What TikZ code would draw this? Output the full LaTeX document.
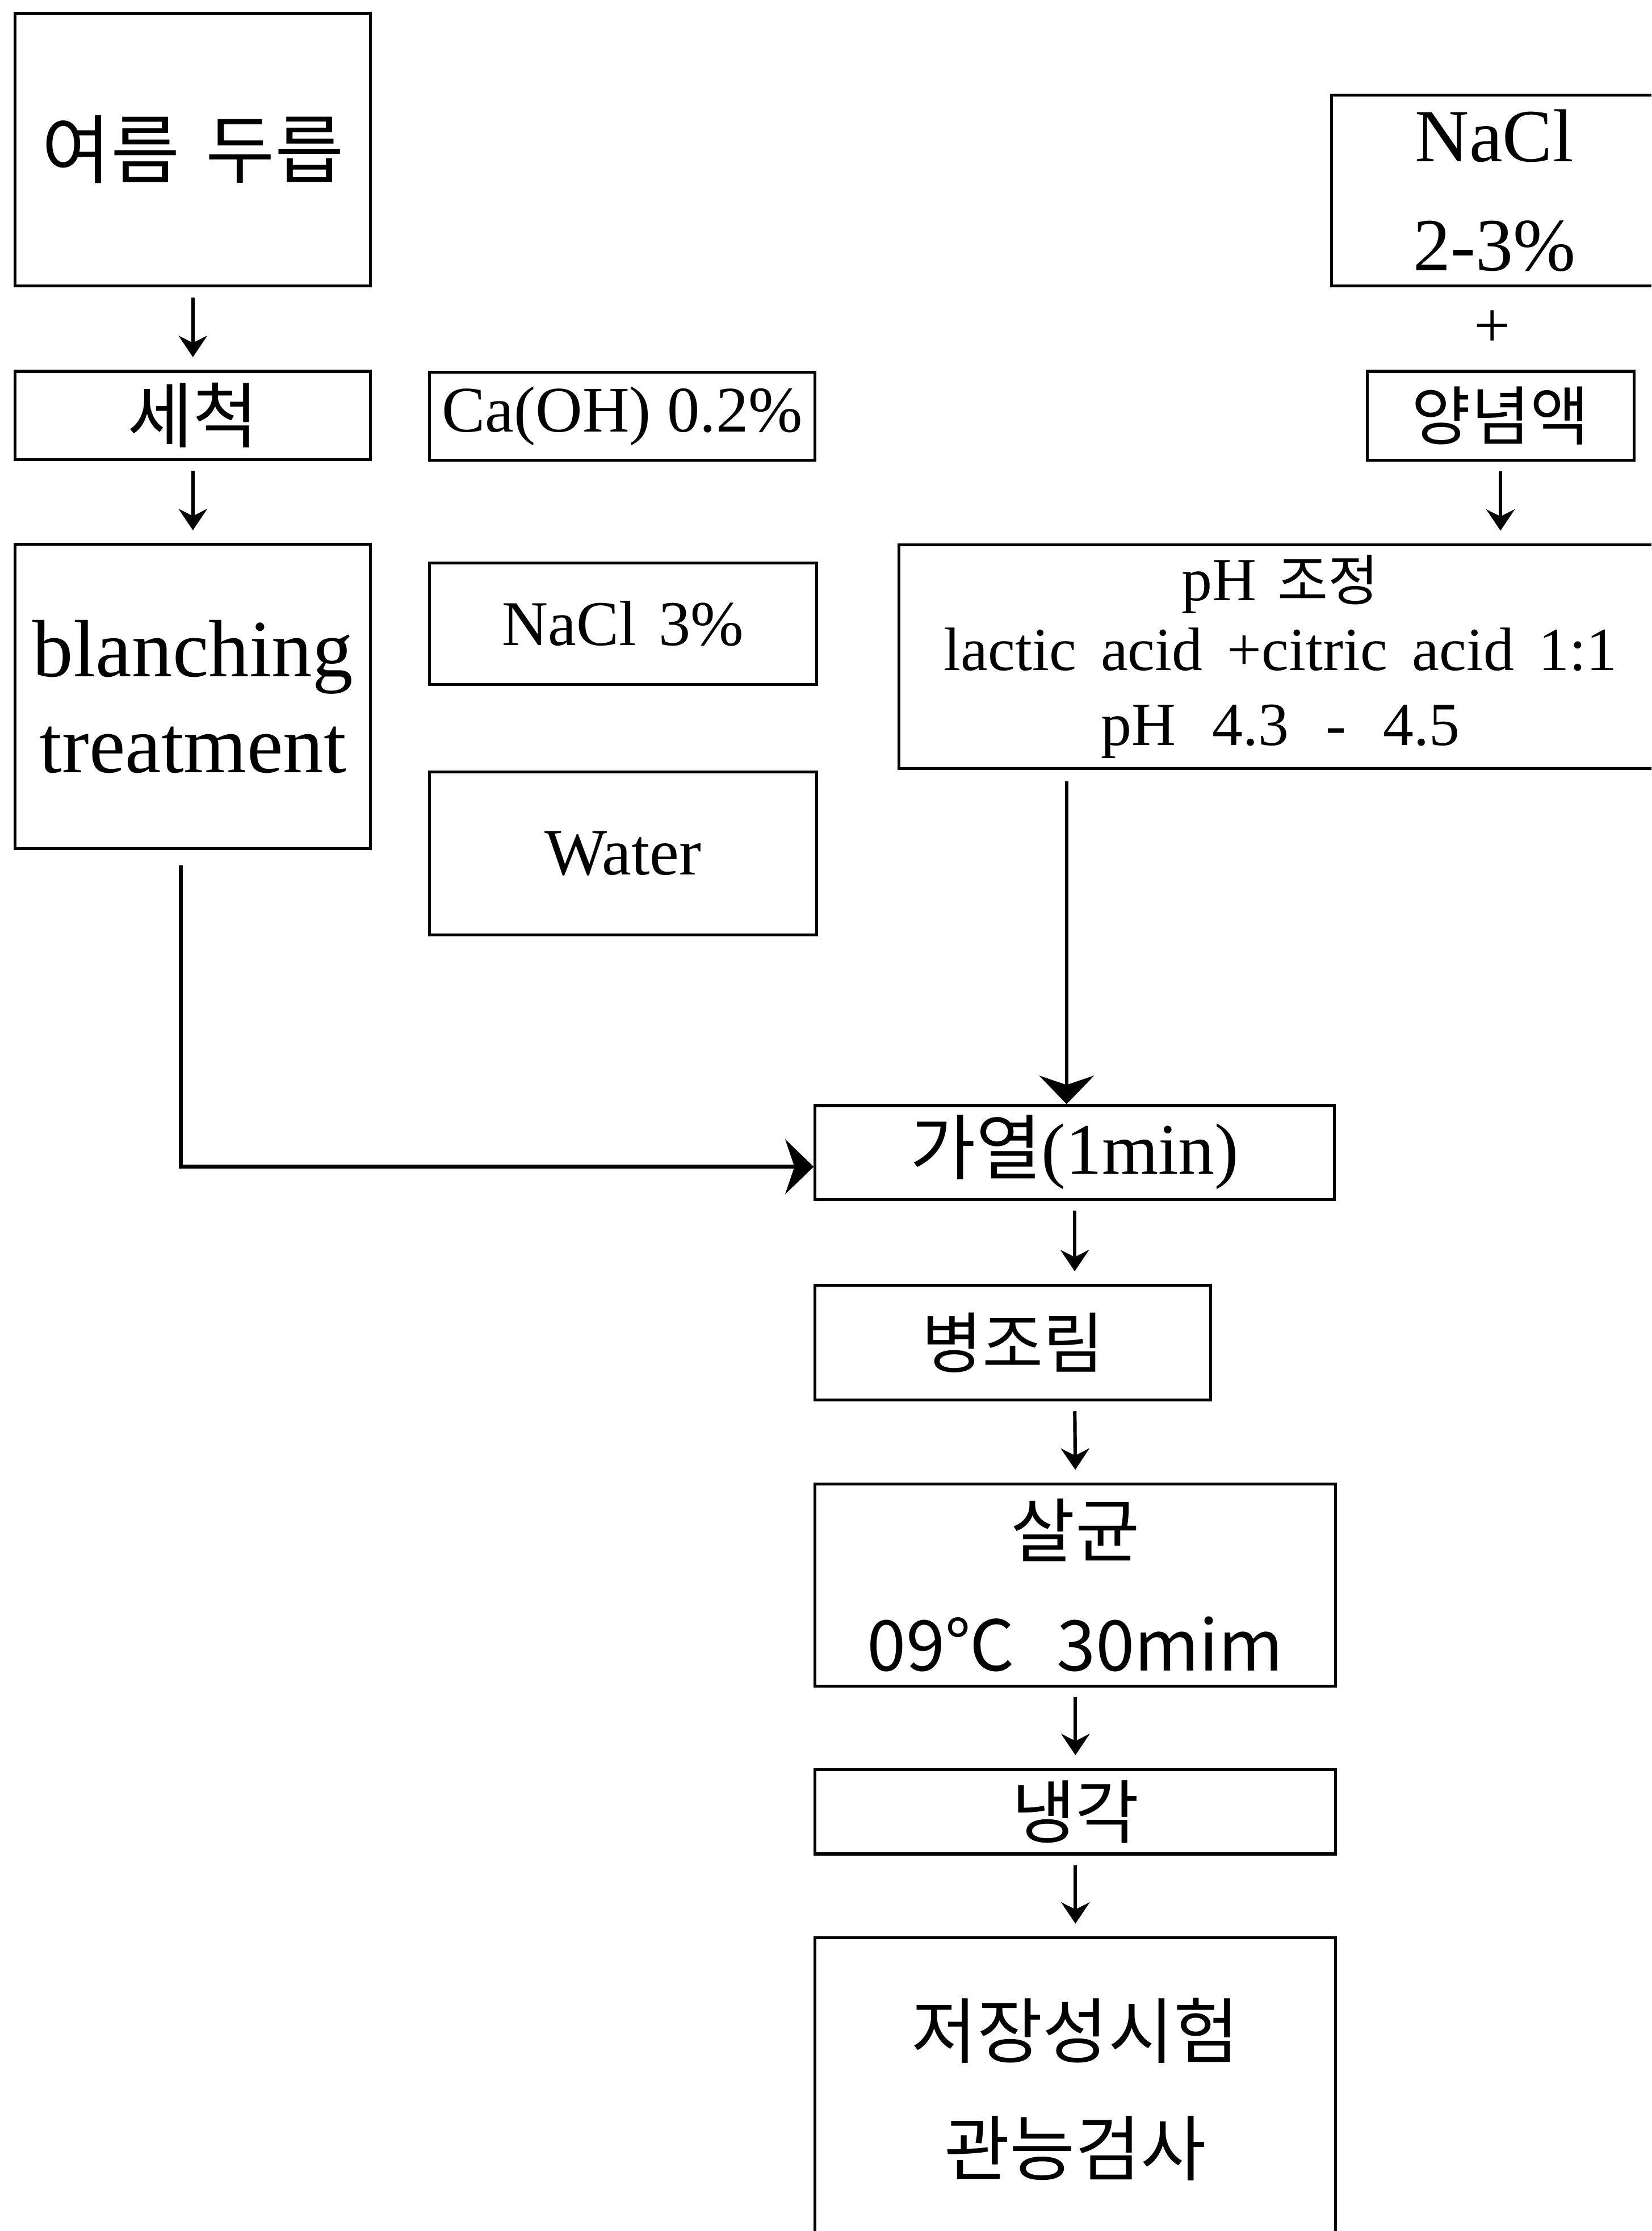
\documentclass[tikz,border=0pt]{standalone}
\usepackage{fontspec}
\setmainfont{Liberation Serif}
\newfontfamily\kr{Noto Sans CJK KR}
\usetikzlibrary{arrows.meta}
\newcommand{\fs}[2]{\fontsize{#1pt}{#2pt}\selectfont}
% \bx[options]{name}{x1}{y1}{x2}{y2}{text}
\newcommand{\bx}[7][]{\node[box,#1,minimum width={(#5-#3)*0.02cm},minimum height={(#6-#4)*0.02cm}] (#2) at ({(#3+#5)/2},{(#4+#6)/2}) {#7};}
\begin{document}
\begin{tikzpicture}[x=0.02cm,y=-0.02cm,
  box/.style={draw,line width=1.15pt,inner sep=0pt,align=center},
  smallarrow/.style={line width=1.4pt,-{Stealth[length=0.3cm,width=0.4cm,inset=0.1cm]},shorten <=0.14cm,shorten >=0.18cm},
  longarrow/.style={line width=1.5pt,-{Stealth[length=0.4cm,width=0.77cm,inset=0.13cm]}}]
\clip (0,0) rectangle (1161,1568);
\fill[white] (0,0) rectangle (1161,1568);
% left column
\bx[font=\kr\fs{30}{34}]{b1}{10.7}{9.2}{260.5}{201}{여름\hspace{0.35em}두릅}
\bx[font=\kr\fs{28.5}{34}]{b2}{10.7}{261}{260.5}{323}{세척}
\bx[font=\fs{32.5}{38.5}]{b4}{10.7}{382.7}{260.5}{596.5}{blanching\\treatment}
% middle column
\bx[font=\fs{26}{30}]{b3}{302}{261.5}{573}{323.4}{\raisebox{-2pt}{Ca(OH) 0.2\%}}
\bx[font=\fs{25.5}{30}]{b5}{302}{395.6}{574}{481}{NaCl\hspace{0.35em}3\%}
\bx[font=\fs{26.5}{30}]{b6}{302}{542.6}{574}{657}{Water}
% right column
\bx[font=\fs{30}{43.6}]{b7}{936}{66.7}{1165}{201}{NaCl\\2-3\%}
\node[font=\fs{26}{30}] (plus) at (1049,231) {+};
\bx[font=\kr\fs{25.7}{30}]{b8}{961}{261}{1148.6}{323.4}{양념액}
\bx[font=\fs{24.5}{30}]{b9}{632}{383}{1168}{540}{\raisebox{-2pt}{pH\hspace{0.35em}{\kr\fs{22}{30}조정}}\\lactic\hspace{0.4em}acid\hspace{0.4em}+citric\hspace{0.4em}acid\hspace{0.4em}1:1\\pH\hspace{0.6em}4.3\hspace{0.6em}-\hspace{0.6em}4.5}
% main column
\bx[font=\fs{29}{35}]{b10}{573}{777}{938}{843}{{\kr\fs{28.5}{35}가열}(1min)}
\bx[font=\kr\fs{26.5}{32}]{b11}{573}{903.5}{851}{983.8}{병조림}
\bx[font=\kr\fs{28}{45.7}]{b12}{573}{1043}{939}{1185}{살균\\09℃\hspace{0.6em}30mim}
\bx[font=\kr\fs{27.7}{32}]{b13}{573}{1243.6}{939}{1303}{냉각}
\bx[font=\kr\fs{28.5}{47}]{b14}{573}{1362}{939}{1575}{저장성시험\\관능검사}
% small arrows
\draw[smallarrow] (b1.south) -- (b2.north);
\draw[smallarrow] (b2.south) -- (b4.north);
\draw[smallarrow] (b8.south) -- (b8.south |- b9.north);
\draw[smallarrow] (b10.south) -- (b10.south |- b11.north);
\draw[smallarrow] (b10.south |- b11.south) -- (b12.north);
\draw[smallarrow] (b12.south) -- (b13.north);
\draw[smallarrow] (b13.south) -- (b14.north);
% long connectors
\coordinate (s4) at ([xshift=-0.168cm,yshift=-0.21cm]b4.south);
\coordinate (t10w) at ([yshift=-0.2cm]b10.west);
\draw[longarrow] (s4) |- (t10w);
\coordinate (t10n) at ([xshift=-0.114cm]b10.north);
\coordinate (s9) at ([yshift=-0.16cm]b9.south);
\draw[longarrow] (t10n |- s9) -- (t10n);
\end{tikzpicture}
\end{document}
